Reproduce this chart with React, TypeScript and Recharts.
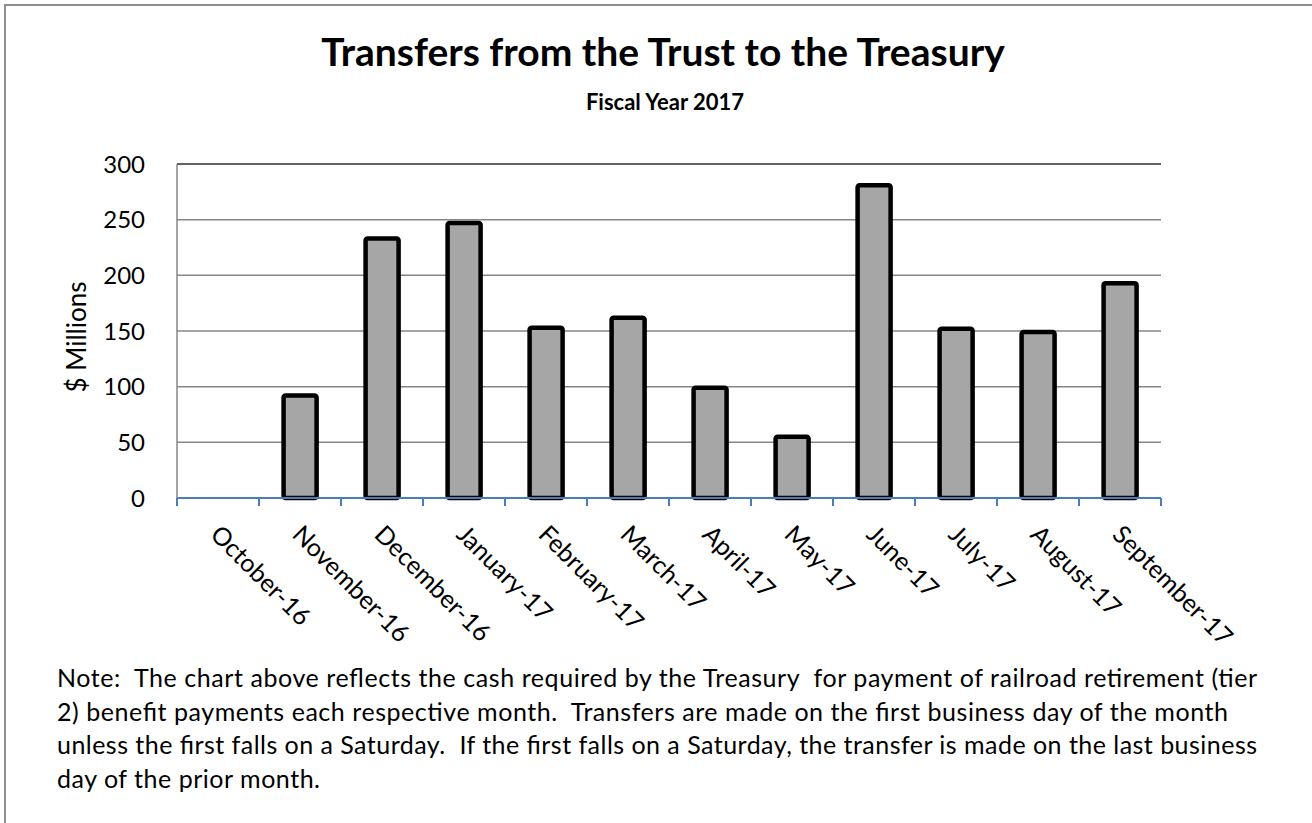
import React from "react";
import {
  BarChart,
  Bar,
  XAxis,
  YAxis,
  CartesianGrid,
  ReferenceLine,
} from "recharts";

const months = [
  "October-16",
  "November-16",
  "December-16",
  "January-17",
  "February-17",
  "March-17",
  "April-17",
  "May-17",
  "June-17",
  "July-17",
  "August-17",
  "September-17",
];
const transfers = [0, 92, 233, 247, 153, 162, 99, 55, 281, 152, 149, 193];
const yTicks = [0, 50, 100, 150, 200, 250, 300];

const title = "Transfers from the Trust to the Treasury";
const subtitle = "Fiscal Year 2017";
const yLabel = "$ Millions";
const noteLines = [
  "Note:  The chart above reflects the cash required by the Treasury  for payment of railroad retirement (tier",
  "2) benefit payments each respective month.  Transfers are made on the first business day of the month",
  "unless the first falls on a Saturday.  If the first falls on a Saturday, the transfer is made on the last business",
  "day of the prior month.",
];

// layout
const W = 1312;
const H = 823;
const PLOT_LEFT = 177;
const PLOT_RIGHT = 1161;
const PLOT_TOP = 164;
const PLOT_BOTTOM = 498;
const BAND = (PLOT_RIGHT - PLOT_LEFT) / months.length;
const noteWidths = [1200, 1171, 1200, 263];
const FONT = "Lato, 'Open Sans', sans-serif";
const AXIS_BLUE = "#4a7ebb";

const data = months.map((month, i) => ({ month, value: transfers[i] }));

function MonthTick(props: any) {
  const { x, y, payload, index } = props;
  const half = BAND / 2;
  const last = index === months.length - 1;
  return (
    <g>
      <line x1={x - half} y1={y} x2={x - half} y2={y + 8} stroke={AXIS_BLUE} strokeWidth={2} />
      {last && (
        <line x1={x + half} y1={y} x2={x + half} y2={y + 8} stroke={AXIS_BLUE} strokeWidth={2} />
      )}
      <text
        transform={`translate(${x - 9},${y + 38}) rotate(45)`}
        textAnchor="start"
        fontSize={25}
        fontFamily={FONT}
        fill="#000"
      >
        {payload.value}
      </text>
    </g>
  );
}

export default function App() {
  return (
    <div
      style={{
        position: "absolute",
        left: 0,
        top: 0,
        width: W,
        height: H,
        background: "#fff",
        fontFamily: FONT,
        overflow: "hidden",
      }}
    >
      <div
        style={{
          position: "absolute",
          left: 4,
          top: 4,
          width: W,
          height: H,
          borderLeft: "2px solid #8f8f8f",
          borderTop: "2px solid #8f8f8f",
        }}
      />
      <div style={{ position: "absolute", left: 0, top: 0 }}>
        <BarChart
          width={W}
          height={H}
          data={data}
          margin={{ top: PLOT_TOP, right: W - PLOT_RIGHT, left: PLOT_LEFT - 100, bottom: H - PLOT_BOTTOM - 150 }}
          barCategoryGap="30%"
        >
          <CartesianGrid stroke="#868686" strokeWidth={1.5} vertical={false} />
          <XAxis
            dataKey="month"
            interval={0}
            height={150}
            tickLine={false}
            tickSize={0}
            tickMargin={0}
            axisLine={{ stroke: AXIS_BLUE, strokeWidth: 2 }}
            tick={<MonthTick />}
          />
          <YAxis
            width={100}
            domain={[0, 300]}
            ticks={yTicks}
            interval={0}
            tickLine={false}
            tickSize={0}
            tickMargin={32}
            axisLine={{ stroke: "#868686", strokeWidth: 1.5 }}
            tick={{ fill: "#000", fontSize: 24, fontFamily: FONT }}
          />
          <YAxis
            yAxisId="frame"
            orientation="right"
            width={0}
            domain={[0, 300]}
            tick={false}
            tickLine={false}
            axisLine={{ stroke: "#595959", strokeWidth: 1.5 }}
          />
          <ReferenceLine y={300} stroke="#4d4d4d" strokeWidth={1.5} />
          <Bar
            dataKey="value"
            fill="#a6a6a6"
            stroke="#000"
            strokeWidth={4.5}
            radius={2}
            isAnimationActive={false}
          />
        </BarChart>
      </div>
      <svg
        width={W}
        height={H}
        style={{ position: "absolute", left: 0, top: 0, pointerEvents: "none" }}
      >
        <text x={663} y={66} textAnchor="middle" fontSize={39} fontWeight={700} fontFamily={FONT}>
          {title}
        </text>
        <text x={665} y={110} textAnchor="middle" fontSize={22} fontWeight={700} fontFamily={FONT}>
          {subtitle}
        </text>
        <text
          transform="translate(76,337) rotate(-90)"
          textAnchor="middle"
          dominantBaseline="central"
          fontSize={26}
          fontFamily={FONT}
        >
          {yLabel}
        </text>
        {noteLines.map((line, i) => (
          <text
            key={i}
            x={57}
            y={687 + i * 33.7}
            fontSize={25}
            fontFamily={FONT}
            textLength={noteWidths[i]}
            lengthAdjust="spacing"
            style={{ whiteSpace: "pre" }}
          >
            {line}
          </text>
        ))}
      </svg>
    </div>
  );
}
